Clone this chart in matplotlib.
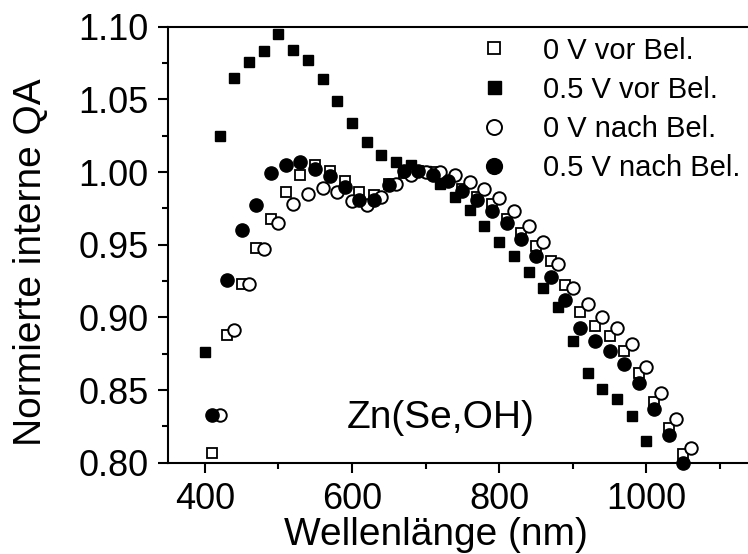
import matplotlib
matplotlib.use("Agg")
import matplotlib.pyplot as plt
from matplotlib.ticker import MultipleLocator, FormatStrFormatter

plt.rcParams['font.family'] = ['Liberation Sans', 'DejaVu Sans']

# 0 V vor Beleuchtung (open squares)
wl_0v_vor = list(range(410, 1051, 20))
qa_0v_vor = [0.807, 0.888, 0.923, 0.948, 0.968, 0.986, 0.998, 1.005, 1.001, 0.994,
             0.986, 0.984, 0.992, 0.999, 1.001, 1.000, 0.994, 0.988, 0.983, 0.978,
             0.968, 0.958, 0.949, 0.939, 0.922, 0.904, 0.894, 0.887, 0.877, 0.862,
             0.842, 0.824, 0.806]

# 0.5 V vor Beleuchtung (filled squares)
wl_05v_vor = list(range(400, 1001, 20))
qa_05v_vor = [0.876, 1.025, 1.065, 1.076, 1.083, 1.095, 1.084, 1.077, 1.064, 1.049,
              1.034, 1.021, 1.012, 1.007, 1.005, 1.001, 0.992, 0.983, 0.974, 0.963,
              0.952, 0.942, 0.931, 0.920, 0.907, 0.884, 0.862, 0.851, 0.844, 0.832,
              0.815]

# 0 V nach Beleuchtung (open circles)
wl_0v_nach = list(range(420, 1061, 20))
qa_0v_nach = [0.833, 0.891, 0.923, 0.947, 0.965, 0.978, 0.985, 0.989, 0.986, 0.980,
              0.977, 0.983, 0.992, 0.998, 1.000, 1.000, 0.998, 0.993, 0.988, 0.982,
              0.973, 0.963, 0.952, 0.937, 0.920, 0.909, 0.900, 0.893, 0.882, 0.866,
              0.848, 0.830, 0.810]

# 0.5 V nach Beleuchtung (filled circles)
wl_05v_nach = list(range(410, 1051, 20))
qa_05v_nach = [0.833, 0.926, 0.960, 0.977, 0.999, 1.005, 1.007, 1.002, 0.997, 0.990,
               0.981, 0.981, 0.991, 1.001, 1.001, 0.998, 0.994, 0.987, 0.981, 0.973,
               0.965, 0.954, 0.942, 0.928, 0.912, 0.893, 0.884, 0.877, 0.868, 0.855,
               0.837, 0.819, 0.800]

labels = ["0 V vor Bel.", "0.5 V vor Bel.", "0 V nach Bel.", "0.5 V nach Bel."]

W, H = 748, 554
fig = plt.figure(figsize=(W / 100, H / 100), dpi=100)
ax = fig.add_axes([168 / W, (H - 462.7) / H, (W - 168) / W, (462.7 - 26.7) / H])

ax.plot(wl_0v_vor, qa_0v_vor, ls='none', marker='s', ms=7.5, mfc='white',
        mec='black', mew=1.3, label=labels[0], clip_on=False)
ax.plot(wl_05v_vor, qa_05v_vor, ls='none', marker='s', ms=7.8, mfc='black',
        mec='black', mew=1.0, label=labels[1], clip_on=False)
ax.plot(wl_0v_nach, qa_0v_nach, ls='none', marker='o', ms=9, mfc='white',
        mec='black', mew=1.4, label=labels[2], clip_on=False)
ax.plot(wl_05v_nach, qa_05v_nach, ls='none', marker='o', ms=9.5, mfc='black',
        mec='black', mew=1.0, label=labels[3], clip_on=False)

ax.set_xlim(350, 1138)
ax.set_ylim(0.80, 1.10)
ax.xaxis.set_major_locator(MultipleLocator(200))
ax.xaxis.set_minor_locator(MultipleLocator(100))
ax.yaxis.set_major_locator(MultipleLocator(0.05))
ax.yaxis.set_minor_locator(MultipleLocator(0.025))
ax.yaxis.set_major_formatter(FormatStrFormatter('%.2f'))

for side in ['left', 'bottom', 'top']:
    ax.spines[side].set_linewidth(1.5)
ax.spines['right'].set_visible(False)
ax.tick_params(which='major', direction='out', length=7, width=1.5,
               labelsize=26, pad=7)
ax.tick_params(which='minor', direction='out', length=4, width=1.5)

ax.set_xlabel("Wellenlänge (nm)", fontsize=28)
ax.xaxis.label.set_va('baseline')
ax.xaxis.set_label_coords(0.462, -0.189)
ax.set_ylabel("Normierte interne QA", fontsize=28)
ax.yaxis.set_label_coords(-0.205, 0.46)

ax.text(720, 0.831, "Zn(Se,OH)", fontsize=28, ha='center', va='center')

leg = ax.legend(loc='upper left', bbox_to_anchor=(465 / W, 1 - 22 / H),
                bbox_transform=fig.transFigure, frameon=False, fontsize=21,
                handlelength=1.0, handletextpad=1.17, labelspacing=0.38,
                borderpad=0, markerscale=1.2)

fig.savefig("out.png", dpi=100)
